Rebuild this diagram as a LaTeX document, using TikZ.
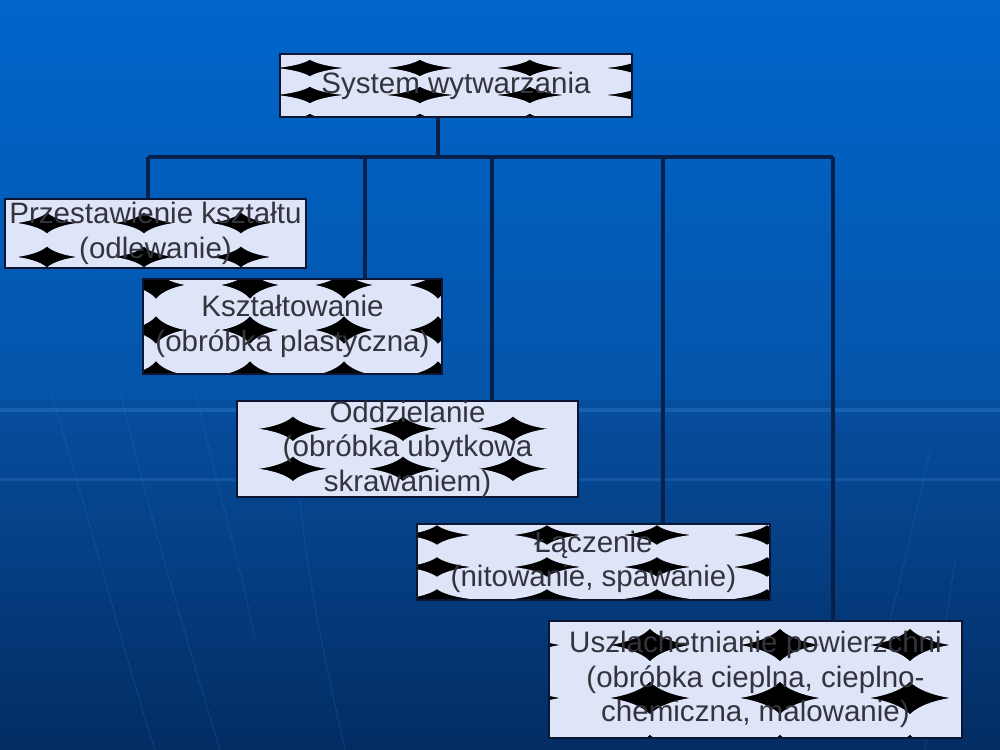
\documentclass[tikz,border=0pt]{standalone}
\usepackage{fontspec}
\setmainfont{Liberation Sans}
\usetikzlibrary{calc}
\definecolor{bgA}{RGB}{0,102,204}
\definecolor{bgB}{RGB}{4,84,168}
\definecolor{bgC}{RGB}{6,78,158}
\definecolor{bgD}{RGB}{3,44,98}
\definecolor{tilefill}{RGB}{222,229,248}
\definecolor{boxline}{RGB}{12,22,50}
\definecolor{connline}{RGB}{6,32,76}
\definecolor{txt}{RGB}{52,52,62}
\definecolor{faint}{RGB}{60,130,220}
\begin{document}
\begin{tikzpicture}[x=0.025cm,y=-0.025cm,
  tiles/.style n args={4}{path picture={
    \fill[black] (path picture bounding box.south west) rectangle (path picture bounding box.north east);
    \foreach \i in {-1,...,4}{
      \foreach \j in {-1,...,3}{
        \fill[tilefill] ($(path picture bounding box.north west)+({#3+(\i+0.5)*#1},{#4+(\j+0.5)*#2})$)
          ellipse [x radius={0.535*#1*0.025cm}, y radius={0.535*#2*0.025cm}];
      }}
  }},
  procbox/.style={draw=boxline, line width=1.6pt, rectangle, inner sep=0pt, outer sep=0pt,
    align=center, text=txt, font=\fontsize{21}{24.5}\selectfont},
  conn/.style={draw=connline, line width=2.2pt}
]
% background
\useasboundingbox (0,0) rectangle (1000,750);
\shade[top color=bgA, bottom color=bgB] (0,0) rectangle (1000,400);
\shade[top color=bgC, bottom color=bgD] (0,400) rectangle (1000,750);
\fill[faint, opacity=0.35] (0,408) rectangle (1000,412);
\fill[faint, opacity=0.25] (0,478) rectangle (1000,481);
\begin{scope}[faint, opacity=0.22, line width=0.6pt]
  \draw (50,390) .. controls (90,520) and (120,640) .. (155,750);
  \draw (120,390) .. controls (150,520) and (190,650) .. (220,750);
  \draw (195,390) .. controls (215,480) and (240,560) .. (255,640);
  \draw (300,500) .. controls (310,600) and (330,680) .. (345,750);
  \draw (930,450) .. controls (915,520) and (900,580) .. (885,640);
  \draw (955,560) .. controls (945,630) and (935,690) .. (925,750);
\end{scope}

% boxes
\node[procbox, minimum width=8.8cm, minimum height=1.575cm, tiles={110}{27}{30}{14}]
  (n1) at (456,85.5) {System wytwarzania};
\node[procbox, minimum width=7.525cm, minimum height=1.725cm, tiles={97}{34}{42}{24}]
  (n2) at (155.5,233.5) {Przestawienie kształtu\\(odlewanie)};
\node[procbox, minimum width=7.475cm, minimum height=2.375cm, tiles={94}{45}{13}{6}]
  (n3) at (292.5,326.5) {Kształtowanie\\(obróbka plastyczna)};
\node[procbox, minimum width=8.525cm, minimum height=2.35cm, tiles={110}{40}{56}{28}]
  (n4) at (407.5,449) {Oddzielanie\\(obróbka ubytkowa\\skrawaniem)};
\node[procbox, minimum width=8.825cm, minimum height=1.9cm, tiles={110}{32}{20}{11}]
  (n5) at (593.5,562) {Łączenie\\(nitowanie, spawanie)};
\node[procbox, minimum width=10.325cm, minimum height=2.925cm, tiles={130}{53}{101}{24}]
  (n6) at (755.5,679.5) {Uszlachetnianie powierzchni\\(obróbka cieplna, cieplno-\\chemiczna, malowanie)};

% connectors
\coordinate (j) at (438,157);
\coordinate (d2) at (148,157);
\coordinate (d3) at (365,157);
\coordinate (d4) at (492,157);
\coordinate (d5) at (663,157);
\coordinate (d6) at (833,157);
\draw[conn] (j |- n1.south) -- (j);
\draw[conn] (d2) -- (d6);
\draw[conn] (d2) -- (d2 |- n2.north);
\draw[conn] (d3) -- (d3 |- n3.north);
\draw[conn] (d4) -- (d4 |- n4.north);
\draw[conn] (d5) -- (d5 |- n5.north);
\draw[conn] (d6) -- (d6 |- n6.north);
\end{tikzpicture}
\end{document}
